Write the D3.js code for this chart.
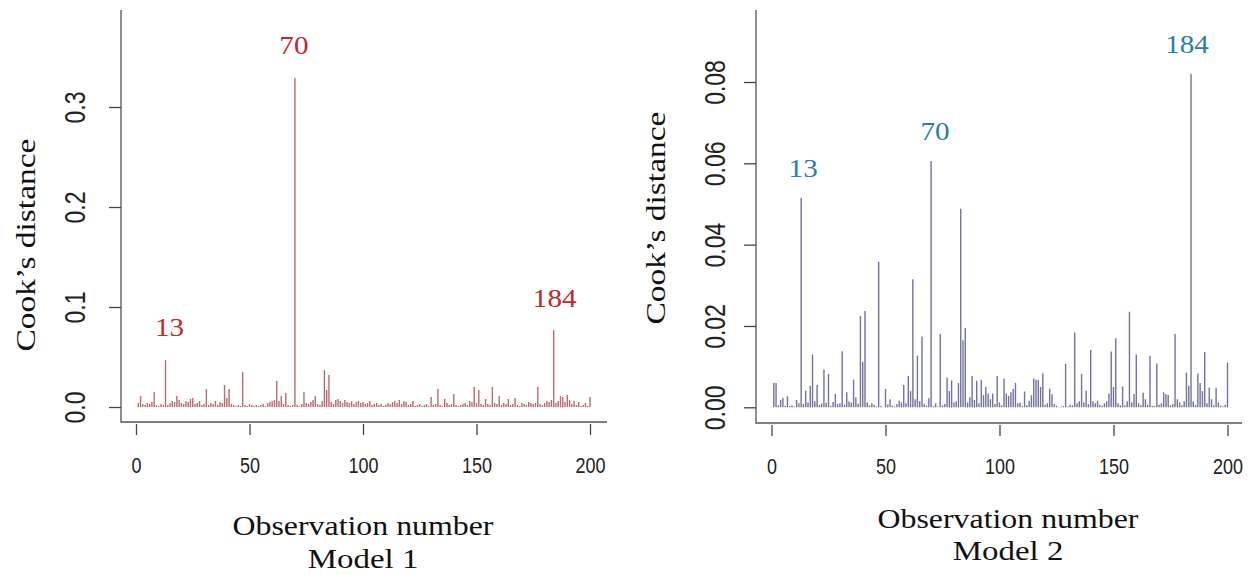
<!DOCTYPE html>
<html><head><meta charset="utf-8">
<script src="https://cdn.jsdelivr.net/npm/d3@7"></script>
<style>body{margin:0;background:#fff}svg{display:block}</style>
</head><body>
<script>
const model1 = [0.004,0.011,0.003,0.002,0.004,0.003,0.005,0.015,0.002,0.001,
0.003,0.002,0.047,0.002,0.004,0.006,0.005,0.011,0.007,0.004,
0.003,0.006,0.005,0.008,0.009,0.003,0.004,0.006,0.002,0.003,
0.018,0.002,0.004,0.003,0.006,0.002,0.005,0.004,0.022,0.009,
0.018,0.003,0.002,0.001,0.002,0.001,0.035,0.002,0.001,0.003,
0.002,0.001,0.002,0.001,0.002,0.003,0.001,0.004,0.005,0.006,
0.007,0.026,0.006,0.011,0.003,0.014,0.002,0.001,0.002,0.329,
0.002,0.001,0.003,0.015,0.004,0.003,0.005,0.007,0.011,0.003,
0.002,0.006,0.037,0.017,0.032,0.005,0.003,0.007,0.008,0.006,
0.004,0.007,0.005,0.004,0.006,0.003,0.005,0.006,0.004,0.005,
0.003,0.004,0.006,0.002,0.003,0.004,0.002,0.003,0.001,0.002,
0.004,0.003,0.005,0.006,0.004,0.007,0.003,0.006,0.005,0.002,
0.003,0.006,0.001,0.002,0.003,0.001,0.002,0.003,0.001,0.010,
0.002,0.003,0.018,0.002,0.001,0.008,0.004,0.002,0.003,0.013,
0.002,0.001,0.002,0.003,0.004,0.002,0.006,0.005,0.020,0.004,
0.017,0.003,0.002,0.008,0.003,0.002,0.020,0.004,0.003,0.011,
0.002,0.004,0.003,0.008,0.002,0.003,0.009,0.002,0.001,0.004,
0.003,0.002,0.005,0.004,0.003,0.004,0.020,0.003,0.002,0.004,
0.006,0.005,0.007,0.077,0.004,0.006,0.011,0.010,0.005,0.012,
0.007,0.003,0.006,0.002,0.005,0.001,0.002,0.004,0.001,0.010];

const model2 = [0.0060,0.0060,0.0005,0.0018,0.0023,0.0004,0.0027,0.0003,0.0005,0.0002,
0.0018,0.0010,0.0515,0.0008,0.0041,0.0012,0.0053,0.0130,0.0015,0.0055,
0.0006,0.0009,0.0093,0.0011,0.0082,0.0004,0.0013,0.0033,0.0008,0.0010,
0.0138,0.0007,0.0037,0.0015,0.0011,0.0068,0.0025,0.0009,0.0225,0.0112,
0.0237,0.0012,0.0005,0.0010,0.0006,0.0002,0.0358,0.0003,0.0001,0.0045,
0.0007,0.0020,0.0004,0.0002,0.0008,0.0016,0.0012,0.0055,0.0010,0.0077,
0.0040,0.0315,0.0020,0.0127,0.0015,0.0174,0.0009,0.0004,0.0022,0.0606,
0.0003,0.0010,0.0002,0.0180,0.0005,0.0008,0.0073,0.0040,0.0066,0.0012,
0.0015,0.0060,0.0488,0.0165,0.0195,0.0012,0.0025,0.0077,0.0018,0.0065,
0.0010,0.0067,0.0030,0.0050,0.0034,0.0020,0.0034,0.0008,0.0077,0.0012,
0.0005,0.0071,0.0034,0.0028,0.0037,0.0045,0.0060,0.0010,0.0012,0.0003,
0.0039,0.0005,0.0016,0.0030,0.0071,0.0068,0.0067,0.0050,0.0084,0.0006,
0.0010,0.0046,0.0032,0.0008,0.0004,0.0001,0.0002,0.0003,0.0107,0.0002,
0.0007,0.0005,0.0184,0.0010,0.0015,0.0082,0.0012,0.0041,0.0008,0.0141,
0.0015,0.0010,0.0016,0.0006,0.0004,0.0010,0.0015,0.0034,0.0137,0.0050,
0.0170,0.0010,0.0005,0.0051,0.0005,0.0015,0.0235,0.0012,0.0033,0.0130,
0.0010,0.0005,0.0036,0.0020,0.0006,0.0127,0.0004,0.0003,0.0108,0.0006,
0.0010,0.0037,0.0033,0.0030,0.0005,0.0008,0.0180,0.0020,0.0012,0.0005,
0.0015,0.0085,0.0053,0.0820,0.0015,0.0006,0.0083,0.0060,0.0040,0.0136,
0.0010,0.0049,0.0020,0.0005,0.0048,0.0012,0.0004,0.0002,0.0006,0.0110];

const xTicks = [0, 50, 100, 150, 200];
const yTicks1 = [0, 0.1, 0.2, 0.3];
const yTickLabels1 = ["0.0", "0.1", "0.2", "0.3"];
const yTicks2 = [0, 0.02, 0.04, 0.06, 0.08];
const yTickLabels2 = ["0.00", "0.02", "0.04", "0.06", "0.08"];
const labels1 = [13, 70, 184];
const labels2 = [13, 70, 184];
const yTitle = "Cook’s distance";
const xTitle = "Observation number";
const subtitles = ["Model 1", "Model 2"];

const W = 1249, H = 575;
const svg = d3.select("body").append("svg").attr("width", W).attr("height", H);
const SERIF = "Liberation Serif, Times New Roman, serif";
const SANS = "Liberation Sans, Arial, sans-serif";

const panels = [
  {data: model1, yTicks: yTicks1, yLabs: yTickLabels1, lab: labels1, yMax: 0.3,
   x0: 136, x1: 590, y0: 407, yTop: 107, axX: 121, axY: 422, axRight: 607,
   barColor: "#b86a6e", labColor: "#c1272d", tickLabX: 75, titleX: 26, titleCy: 245,
   labOff: {13: [4, -24], 70: [-1, -24], 184: [1, -23]}, sub: subtitles[0], titleCx: 363, xTitleY: 535, subY: 568},
  {data: model2, yTicks: yTicks2, yLabs: yTickLabels2, lab: labels2, yMax: 0.08,
   x0: 771.5, x1: 1227.5, y0: 407.3, yTop: 82, axX: 756, axY: 423, axRight: 1242,
   barColor: "#72729e", labColor: "#2b7fa3", tickLabX: 715, titleX: 656, titleCy: 218,
   labOff: {13: [2, -21], 70: [4, -21], 184: [-4, -21]}, sub: subtitles[1], titleCx: 1008, xTitleY: 528, subY: 560}
];

panels.forEach(p => {
  const x = d3.scaleLinear().domain([0, 200]).range([p.x0, p.x1]);
  const y = d3.scaleLinear().domain([0, p.yMax]).range([p.y0, p.yTop]);
  const g = svg.append("g");

  // frame (L shape)
  g.append("path").attr("d", `M${p.axX},10V${p.axY}H${p.axRight}`)
    .attr("fill", "none").attr("stroke", "#555").attr("stroke-width", 1.3);

  // bars (type = "h")
  g.selectAll("line.bar").data(p.data).enter().append("line")
    .attr("class", "bar")
    .attr("x1", (d, i) => x(i + 1)).attr("x2", (d, i) => x(i + 1))
    .attr("y1", y(0)).attr("y2", d => y(d))
    .attr("stroke", p.barColor).attr("stroke-width", 1.4);

  // x axis
  const xa = d3.axisBottom(x).tickValues(xTicks).tickSize(11).tickPadding(0).tickFormat(d3.format("d"));
  const gx = g.append("g").attr("transform", `translate(0,${p.axY + 2})`).call(xa);
  gx.select(".domain").remove();
  gx.selectAll("line").attr("stroke", "#444").attr("stroke-width", 1.3);
  gx.selectAll("text").remove();
  gx.selectAll(".tick").append("text")
    .attr("transform", "translate(0,41) scale(1,1.2)")
    .attr("text-anchor", "middle").attr("dy", "0.35em")
    .attr("font-family", SANS).attr("font-size", 18).attr("fill", "#222")
    .text(d => d3.format("d")(d));

  // y axis
  const ya = d3.axisLeft(y).tickValues(p.yTicks).tickSize(12)
    .tickFormat((d, i) => p.yLabs[i]);
  const gy = g.append("g").attr("transform", `translate(${p.axX},0)`).call(ya);
  gy.select(".domain").remove();
  gy.selectAll("line").attr("stroke", "#444").attr("stroke-width", 1.3);
  gy.selectAll("text").remove();
  gy.selectAll(".tick").append("text")
    .attr("transform", `translate(${p.tickLabX - p.axX},0) rotate(-90) scale(1,1.3)`)
    .attr("text-anchor", "middle").attr("dy", "0.35em")
    .attr("font-family", SANS).attr("font-size", 23).attr("fill", "#222")
    .text((d, i) => p.yLabs[i]);

  // titles
  g.append("text").attr("transform", `translate(${p.titleX},${p.titleCy}) rotate(-90) scale(1.24,1)`)
    .attr("text-anchor", "middle").attr("dy", "0.35em")
    .attr("font-family", SERIF).attr("font-size", 27).attr("fill", "#111").text(yTitle);
  g.append("text").attr("transform", `translate(${p.titleCx},${p.xTitleY}) scale(1.18,1)`)
    .attr("text-anchor", "middle")
    .attr("font-family", SERIF).attr("font-size", 27).attr("fill", "#111").text(xTitle);
  g.append("text").attr("transform", `translate(${p.titleCx},${p.subY}) scale(1.22,1)`)
    .attr("text-anchor", "middle")
    .attr("font-family", SERIF).attr("font-size", 27).attr("fill", "#111").text(p.sub);

  // point labels
  g.selectAll("text.pl").data(p.lab).enter().append("text").attr("class", "pl")
    .attr("transform", d => `translate(${x(d) + p.labOff[d][0]},${y(p.data[d - 1]) + p.labOff[d][1]}) scale(1.12,1)`)
    .attr("text-anchor", "middle")
    .attr("font-family", SERIF).attr("font-size", 26).attr("fill", p.labColor).text(d => d);
});
</script>
</body></html>
